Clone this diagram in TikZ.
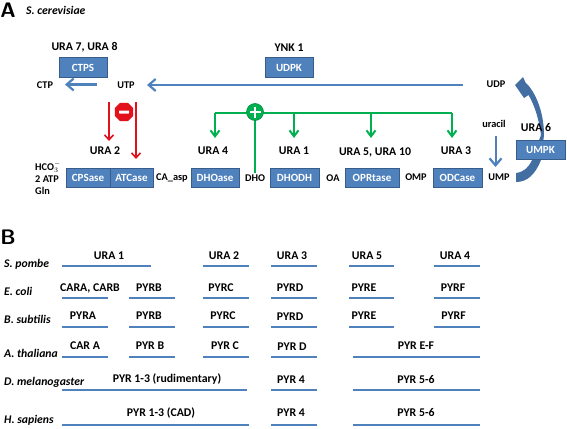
\documentclass[tikz,border=0pt]{standalone}
\usepackage{fontspec}
\setmainfont{Carlito}
\usetikzlibrary{arrows.meta}
\usetikzlibrary{shapes.geometric}
\definecolor{boxblue}{HTML}{4F81BD}
\definecolor{boxedge}{HTML}{385D8A}
\definecolor{okgreen}{HTML}{00B050}
\definecolor{stopred}{HTML}{E2111B}
\tikzset{
  gene/.style={font=\fontsize{11.8}{13}\selectfont\bfseries, inner sep=1pt},
  met/.style={font=\fontsize{10.3}{11}\selectfont\bfseries, inner sep=1pt},
  species/.style={font=\fontsize{11.7}{13}\selectfont\bfseries\itshape, inner sep=0pt, anchor=west},
  panel/.style={font=\fontsize{21}{22}\selectfont\sffamily\bfseries, inner sep=0pt},
  enzyme/.style={draw=boxedge, line width=1pt, fill=boxblue, text=white, inner sep=0pt,
    font=\fontsize{11}{12}\selectfont\bfseries, minimum height=19pt},
  bluearrow/.style={boxblue, line width=2.2pt, -{Straight Barb[length=7pt,width=12pt,line width=2.2pt]}},
  redarrow/.style={stopred, line width=1.3pt, -{Straight Barb[length=5pt,width=9pt,line width=1.6pt]}},
  greenarrow/.style={okgreen, line width=1.3pt, -{Straight Barb[length=6pt,width=9pt,line width=2pt]}},
  greenline/.style={okgreen, line width=1.3pt},
  genebar/.style={boxblue, line width=2pt}
}
\begin{document}
\begin{tikzpicture}[x=1pt,y=-1pt]
    \useasboundingbox (0,0) rectangle (567,428);
    \node [panel] (pa) at (8,10) {A};
    \node [species] (scer) at (26,10) {S. cerevisiae};

    % top row
    \node [gene] (ura78) at (84.5,47.5) {URA 7, URA 8};
    \node [enzyme, minimum width=48pt] (ctps) at (83,67.5) {CTPS};
    \node [gene] (ynk) at (289,47.5) {YNK 1};
    \node [enzyme, minimum width=48pt] (udpk) at (289,67.5) {UDPK};
    \node [met] (ctp) at (45,85.5) {CTP};
    \node [met] (utp) at (126,85) {UTP};
    \node [met] (udp) at (496,84.5) {UDP};
    \coordinate (ctpend) at (65,84.5);
    \coordinate (ctpstart) at (97,84.5);
    \coordinate (utpend) at (147,85);
    \coordinate (udpstart) at (463,85);
    \draw [bluearrow] (ctpstart) -- (ctpend);
    \draw [bluearrow] (udpstart) -- (utpend);

    % bottom row
    \node [gene] (ura2) at (105,151) {URA 2};
    \node [enzyme, minimum width=44pt] (cps) at (88,178) {CPSase};
    \node [enzyme, minimum width=43pt] (atc) at (131.5,178) {ATCase};
    \node [met] (camet) at (172,178) {CA\_asp};
    \node [gene] (ura4) at (213,151) {URA 4};
    \node [enzyme, minimum width=48pt] (dhoase) at (215,178) {DHOase};
    \node [met] (dho) at (255,178) {DHO};
    \node [gene] (ura1) at (294,151) {URA 1};
    \node [enzyme, minimum width=49pt] (dhodh) at (294.5,178) {DHODH};
    \node [met] (oa) at (333,178) {OA};
    \node [gene] (ura510) at (375,152) {URA 5, URA 10};
    \node [enzyme, minimum width=54pt] (oprt) at (372,178) {OPRtase};
    \node [met] (omp) at (416,177.5) {OMP};
    \node [gene] (ura3) at (456,151) {URA 3};
    \node [enzyme, minimum width=49pt] (odc) at (457.5,178) {ODCase};
    \node [met] (ump) at (499,177.5) {UMP};
    \node [met] (uracil) at (494,123.5) {uracil};
    \node [met, align=left, anchor=east, font=\fontsize{10.3}{12}\selectfont\bfseries] (subs) at (62,178) {HCO$_3^-$\\2 ATP\\Gln};
    \coordinate (urstart) at (495.5,136);
    \coordinate (urend) at (495.5,167);
    \draw [bluearrow, line width=2pt] (urstart) -- (urend);

    % UMP to UDP, the box goes over it
    \fill [boxblue!85!black] (516,173) .. controls (524,172) and (529,167) .. (532,160) -- (541,135)
      .. controls (539,120) and (535,106) .. (528.5,95) -- (524,98) -- (515,85) -- (523,77) -- (525.5,82.5)
      .. controls (534,90) and (544,110) .. (544,135) -- (541,160)
      .. controls (535,175) and (527,182) .. (516,182) -- cycle;
    \node [gene] (ura6) at (536,128) {URA 6};
    \node [enzyme, minimum width=49pt] (umpk) at (540.5,149.5) {UMPK};

    % inhibition
    \coordinate (ra) at (109,102);
    \coordinate (rb) at (109,141);
    \coordinate (rc) at (136,102);
    \coordinate (rd) at (136,159);
    \draw [redarrow] (ra) -- (rb);
    \draw [redarrow] (rc) -- (rd);
    \node [regular polygon, regular polygon sides=8, fill=stopred, minimum size=20pt, inner sep=0pt] (stop) at (124,112) {};
    \fill [white, rounded corners=0.5pt] ([shift={(-5,-1.5)}]stop.center) rectangle ([shift={(5,1.5)}]stop.center);

    % activation
    \coordinate (gl) at (215,113);
    \coordinate (g1) at (294,113);
    \coordinate (g5) at (371,113);
    \coordinate (gr) at (452,113);
    \coordinate (dl) at (215,138);
    \coordinate (d1) at (294,138);
    \coordinate (d5) at (371,138);
    \coordinate (dr) at (452,138);
    \draw [greenline] (gl) -- (gr);
    \draw [greenarrow] (gl) -- (dl);
    \draw [greenarrow] (g1) -- (d1);
    \draw [greenarrow] (g5) -- (d5);
    \draw [greenarrow] (gr) -- (dr);
    \draw [greenline] (255,112) -- (dho.north);
    \node [circle, fill=okgreen, draw=okgreen!80!black, line width=0.6pt, minimum size=17pt, inner sep=0pt] (plus) at (255,112) {};
    \draw [white, line width=2pt] ([yshift=-5.5pt]plus.center) -- ([yshift=5.5pt]plus.center);
    \draw [white, line width=2pt] ([xshift=-5.5pt]plus.center) -- ([xshift=5.5pt]plus.center);

    % panel B
    \node [panel] (pb) at (8,237) {B};
    \node [species] (pombe) at (4,264) {S. pombe};
    \node [species] (coli) at (4,291) {E. coli};
    \node [species] (subt) at (4,319.5) {B. subtilis};
    \node [species] (thal) at (4,353) {A. thaliana};
    \node [species] (mela) at (4,382) {D. melanogaster};
    \node [species] (sapi) at (4,420) {H. sapiens};

    \draw [genebar] (62,266) -- (151,266);
    \draw [genebar] (203,266) -- (249,266);
    \draw [genebar] (271,266) -- (317,266);
    \draw [genebar] (349,266) -- (394,266);
    \draw [genebar] (434,266) -- (480,266);
    \node [gene] (pa1) at (109,256) {URA 1};
    \node [gene] (pa2) at (224,256) {URA 2};
    \node [gene] (pa3) at (292,256) {URA 3};
    \node [gene] (pa5) at (367,256) {URA 5};
    \node [gene] (pa4) at (455,256) {URA 4};

    \draw [genebar] (62,298) -- (108,298);
    \draw [genebar] (129,298) -- (175,298);
    \draw [genebar] (203,298) -- (249,298);
    \draw [genebar] (271,298) -- (317,298);
    \draw [genebar] (349,298) -- (394,298);
    \draw [genebar] (434,298) -- (480,298);
    \node [gene] (ec1) at (90,288) {CARA, CARB};
    \node [gene] (ec2) at (149,288) {PYRB};
    \node [gene] (ec3) at (221,288) {PYRC};
    \node [gene] (ec4) at (290,288) {PYRD};
    \node [gene] (ec5) at (364,288) {PYRE};
    \node [gene] (ec6) at (453,288) {PYRF};

    \draw [genebar] (62,326.5) -- (108,326.5);
    \draw [genebar] (129,326.5) -- (175,326.5);
    \draw [genebar] (203,326.5) -- (249,326.5);
    \draw [genebar] (271,326.5) -- (317,326.5);
    \draw [genebar] (349,326.5) -- (394,326.5);
    \draw [genebar] (434,326.5) -- (480,326.5);
    \node [gene] (bs1) at (83,316) {PYRA};
    \node [gene] (bs2) at (149,316) {PYRB};
    \node [gene] (bs3) at (223,316) {PYRC};
    \node [gene] (bs4) at (290,317) {PYRD};
    \node [gene] (bs5) at (364,316) {PYRE};
    \node [gene] (bs6) at (453.5,316) {PYRF};

    \draw [genebar] (62,356.5) -- (108,356.5);
    \draw [genebar] (129,356.5) -- (175,356.5);
    \draw [genebar] (203,356.5) -- (249,356.5);
    \draw [genebar] (271,356.5) -- (317,356.5);
    \draw [genebar] (353,356.5) -- (480,356.5);
    \node [gene] (at1) at (85,346) {CAR A};
    \node [gene] (at2) at (150,346) {PYR B};
    \node [gene] (at3) at (225,346) {PYR C};
    \node [gene] (at4) at (292,347) {PYR D};
    \node [gene] (at5) at (416,346) {PYR E-F};

    \draw [genebar] (62,390) -- (247,390);
    \draw [genebar] (271,390) -- (317,390);
    \draw [genebar] (353,390) -- (480,390);
    \node [gene] (dm1) at (167,379.5) {PYR 1-3 (rudimentary)};
    \node [gene] (dm2) at (291,379.5) {PYR 4};
    \node [gene] (dm3) at (416,379.5) {PYR 5-6};

    \draw [genebar] (62,424.5) -- (249,424.5);
    \draw [genebar] (271,424.5) -- (317,424.5);
    \draw [genebar] (353,424.5) -- (480,424.5);
    \node [gene] (hs1) at (161,413) {PYR 1-3 (CAD)};
    \node [gene] (hs2) at (291,413) {PYR 4};
    \node [gene] (hs3) at (416,413) {PYR 5-6};
  \end{tikzpicture}
\end{document}
